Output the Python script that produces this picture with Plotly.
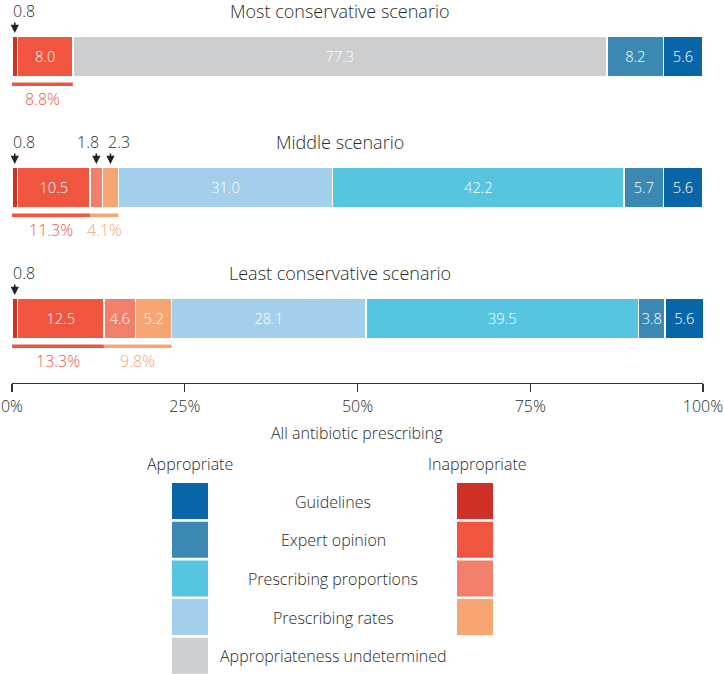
import plotly.graph_objects as go

# ---------------- data ----------------
scenarios = ["Most conservative scenario", "Middle scenario", "Least conservative scenario"]
inapp_guidelines = [0.8, 0.8, 0.8]
inapp_expert = [8.0, 10.5, 12.5]
inapp_proportions = [None, 1.8, 4.6]
inapp_rates = [None, 2.3, 5.2]
undetermined = [77.3, None, None]
app_rates = [None, 31.0, 28.1]
app_proportions = [None, 42.2, 39.5]
app_expert = [8.2, 5.7, 3.8]
app_guidelines = [5.6, 5.6, 5.6]

tick_vals = [0, 25, 50, 75, 100]
tick_text = ["0%", "25%", "50%", "75%", "100%"]

legend_rows = ["Guidelines", "Expert opinion", "Prescribing proportions",
               "Prescribing rates", "Appropriateness undetermined"]

# ---------------- style ----------------
FONT = "'Open Sans', Lato, 'DejaVu Sans', sans-serif"
TXT = "#2a2a2a"
C = {
    "inapp_guidelines": "#cf3128",
    "inapp_expert": "#f0553f",
    "inapp_proportions": "#f27f6b",
    "inapp_rates": "#f7a673",
    "undetermined": "#cdcecf",
    "app_rates": "#a3cfec",
    "app_proportions": "#57c4e0",
    "app_expert": "#3b88b3",
    "app_guidelines": "#0866a8",
}

series = [
    ("inapp_guidelines", inapp_guidelines),
    ("inapp_expert", inapp_expert),
    ("inapp_proportions", inapp_proportions),
    ("inapp_rates", inapp_rates),
    ("undetermined", undetermined),
    ("app_rates", app_rates),
    ("app_proportions", app_proportions),
    ("app_expert", app_expert),
    ("app_guidelines", app_guidelines),
]

W, H = 724, 674
ML, MR, MT = 12, 21, 0
AXIS_PX = 383
MB = H - AXIS_PX
PW = W - ML - MR
PH = AXIS_PX - MT

ROW_STEP = 131.0
ROW0 = 56.5
BAR_PX = 41.0


def px_to_cat(py):
    return (py - ROW0) / ROW_STEP


def off(dpx):
    return dpx / ROW_STEP


def pxx(px):
    return (px - ML) / PW


def pxy(py):
    return (AXIS_PX - py) / PH


def font(size, color=TXT, family=FONT):
    return dict(size=size, color=color, family=family, weight=300)


fig = go.Figure()

for key, vals in series:
    texts = [("" if (v is None or v < 3) else f"{v:.1f}") for v in vals]
    fig.add_trace(go.Bar(
        y=scenarios, x=vals, orientation="h", name=key,
        marker=dict(color=C[key], line=dict(color="white", width=1.5)),
        text=texts, textposition="inside", insidetextanchor="middle",
        textangle=0, textfont=font(16, "white"),
        width=BAR_PX / ROW_STEP, hoverinfo="skip", showlegend=False,
    ))

annotations = []
shapes = []

for i, sc in enumerate(scenarios):
    annotations.append(dict(x=47.5, y=i + off(-45.5), xref="x", yref="y", text=sc,
                            showarrow=False, font=font(18),
                            xanchor="center", yanchor="middle"))
    cum = 0.0
    callouts = []
    for key, vals in series:
        v = vals[i]
        if v is None:
            continue
        if v < 3:
            callouts.append((cum + v / 2.0, v))
        cum += v
    for j, (cx, v) in enumerate(callouts):
        close_next = j + 1 < len(callouts) and (callouts[j + 1][0] - cx) < 3
        annotations.append(dict(x=cx, y=i + off(-45.5), xref="x", yref="y", text=f"{v:.1f}",
                                showarrow=False, font=font(16),
                                xanchor="right" if close_next else "left",
                                xshift=5 if close_next else -4, yanchor="middle"))
        annotations.append(dict(x=cx, y=i + off(-23.5), xref="x", yref="y", text="",
                                showarrow=True, ax=0, ay=-12, arrowhead=2, arrowsize=1.1,
                                arrowwidth=1.5, arrowcolor="#222"))
    g1 = (inapp_guidelines[i] or 0) + (inapp_expert[i] or 0)
    g2 = (inapp_proportions[i] or 0) + (inapp_rates[i] or 0)
    groups = [(0.0, g1, C["inapp_expert"]), (g1, g1 + g2, C["inapp_rates"])]
    for x0, x1, col in groups:
        if x1 - x0 <= 0:
            continue
        shapes.append(dict(type="rect", xref="x", yref="y", x0=x0, x1=x1,
                           y0=i + off(26), y1=i + off(29.5), fillcolor=col,
                           line=dict(width=0), layer="above"))
        annotations.append(dict(x=(x0 + x1) / 2.0, y=i + off(42), xref="x", yref="y",
                                text=f"{x1 - x0:.1f}%", showarrow=False,
                                font=font(16, col),
                                xanchor="center", yanchor="middle"))

annotations.append(dict(x=pxx(357), y=pxy(433), xref="paper", yref="paper",
                        text="All antibiotic prescribing", showarrow=False,
                        font=font(16), xanchor="center", yanchor="middle"))

annotations.append(dict(x=pxx(190), y=pxy(464), xref="paper", yref="paper", text="Appropriate",
                        showarrow=False, font=font(16), xanchor="center", yanchor="middle"))
annotations.append(dict(x=pxx(477), y=pxy(464), xref="paper", yref="paper", text="Inappropriate",
                        showarrow=False, font=font(16), xanchor="center", yanchor="middle"))
left_cols = [C["app_guidelines"], C["app_expert"], C["app_proportions"], C["app_rates"], C["undetermined"]]
right_cols = [C["inapp_guidelines"], C["inapp_expert"], C["inapp_proportions"], C["inapp_rates"]]
row_top = 483
row_h = 38.7
sq = 36
for k, lab in enumerate(legend_rows):
    t = row_top + k * row_h
    shapes.append(dict(type="rect", xref="paper", yref="paper", x0=pxx(172), x1=pxx(208),
                       y0=pxy(t + sq), y1=pxy(t), fillcolor=left_cols[k], line=dict(width=0)))
    if k < len(right_cols):
        shapes.append(dict(type="rect", xref="paper", yref="paper", x0=pxx(457), x1=pxx(493),
                           y0=pxy(t + sq), y1=pxy(t), fillcolor=right_cols[k], line=dict(width=0)))
    annotations.append(dict(x=pxx(333), y=pxy(t + sq / 2 + 0.5), xref="paper", yref="paper", text=lab,
                            showarrow=False, font=font(16), xanchor="center", yanchor="middle"))

fig.update_layout(
    width=W, height=H, autosize=False,
    margin=dict(l=ML, r=MR, t=MT, b=MB, pad=0),
    paper_bgcolor="white", plot_bgcolor="white",
    barmode="stack", bargap=0,
    font=font(16),
    xaxis=dict(range=[0, 100], tickvals=tick_vals, ticktext=tick_text,
               showgrid=False, zeroline=False, showline=True, linecolor="#333",
               linewidth=1.3, ticks="outside", ticklen=8, tickcolor="#333", tickwidth=1.3,
               tickfont=font(16), fixedrange=True),
    yaxis=dict(type="category", categoryorder="array", categoryarray=scenarios,
               range=[px_to_cat(AXIS_PX), px_to_cat(0)], showticklabels=False,
               showgrid=False, zeroline=False, showline=False, ticks="", fixedrange=True),
    uniformtext=dict(minsize=13, mode="show"),
    annotations=annotations, shapes=shapes,
)

fig.write_html("out.html", config={"displayModeBar": False, "staticPlot": True},
               post_script="document.body.style.margin='0';document.body.style.overflow='hidden';")
